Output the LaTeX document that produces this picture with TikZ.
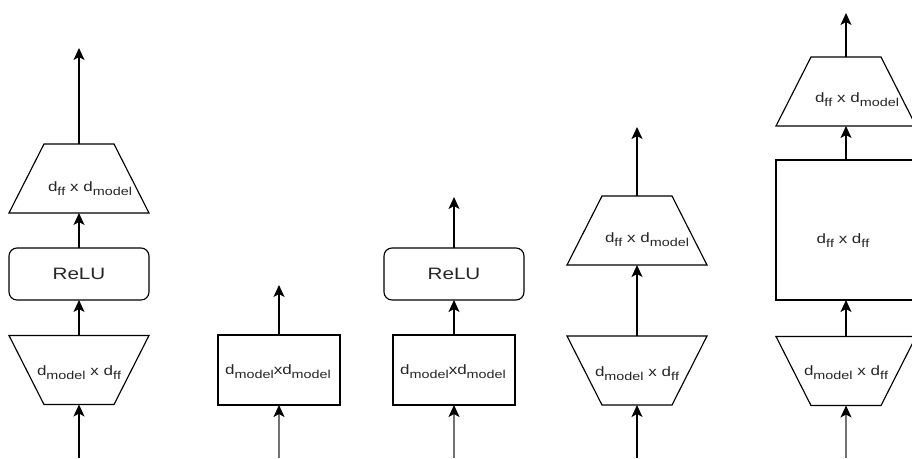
\documentclass[tikz,border=0pt]{standalone}
\usepackage{fontspec}
\setmainfont{Liberation Sans}[FakeStretch=1.25]
\usetikzlibrary{arrows.meta}
\newcommand{\sbs}[1]{\raisebox{-4pt}{\fontsize{11.5}{11.5}\selectfont #1}}
\newcommand{\dff}{d\sbs{f\kern0pt f}}
\newcommand{\dmod}{d\sbs{model}}
\begin{document}
\begin{tikzpicture}[x=1pt,y=-1pt,
  every node/.style={inner sep=0pt, outer sep=0pt},
  trapbox/.style={minimum width=140pt, minimum height=69pt},
  shapeline/.style={line width=1.15pt, black},
  relubox/.style={draw, line width=1.15pt, rounded corners=8pt, minimum width=140pt, minimum height=52pt, font=\fontsize{16.5}{16.5}\selectfont, text=black!85},
  sqbox/.style={draw, line width=1.15pt, minimum width=122pt, minimum height=70pt},
  lbl/.style={font=\fontsize{13.6}{14}\selectfont, text=black!85},
  conn/.style={line width=1.15pt, -{Stealth[length=12pt,width=11pt,inset=3pt]}},
  gconn/.style={line width=1.3pt, black!55, -{Stealth[length=12pt,width=11pt,inset=3pt,color=black]}}
]
\useasboundingbox (0,0) rectangle (912,458);
\clip (0,0) rectangle (912,458);

% ---------- Column 1 ----------
\coordinate (out1) at (79,48);
\node[trapbox] (T1) at (79,178.5) {};
\node[relubox] (R1) at (79,274) {ReLU};
\node[trapbox] (B1) at (79,370) {};
\coordinate (in1) at (79,458);
\draw[shapeline] (T1.south west) -- (T1.south east) -- ([xshift=-35pt]T1.north east) -- ([xshift=35pt]T1.north west) -- cycle;
\draw[shapeline] (B1.north west) -- (B1.north east) -- ([xshift=-35pt]B1.south east) -- ([xshift=35pt]B1.south west) -- cycle;
\node[lbl] (LT1) at (90,189) {\dff{} x \dmod};
\node[lbl] (LB1) at (79,373) {\dmod{} x \dff};
\draw[conn] (in1) -- (B1);
\draw[conn] (B1) -- (R1);
\draw[conn] (R1) -- (T1);
\draw[conn] (T1) -- (out1);

% ---------- Column 2 ----------
\coordinate (out2) at (279,285);
\node[sqbox] (M2) at (279,370) {};
\coordinate (in2) at (279,458);
\node[lbl] (LM2) at (278,372) {\dmod x\dmod};
\draw[gconn] (in2) -- (M2);
\draw[conn] (M2) -- (out2);

% ---------- Column 3 ----------
\coordinate (out3) at (454,197);
\node[relubox] (R3) at (454,274) {ReLU};
\node[sqbox] (M3) at (454,370) {};
\coordinate (in3) at (454,458);
\node[lbl] (LM3) at (453,372) {\dmod x\dmod};
\draw[gconn] (in3) -- (M3);
\draw[conn] (M3) -- (R3);
\draw[conn] (R3) -- (out3);

% ---------- Column 4 ----------
\coordinate (out4) at (637,127);
\node[trapbox] (T4) at (637,230.5) {};
\node[trapbox] (B4) at (637,370.5) {};
\coordinate (in4) at (637,458);
\draw[shapeline] (T4.south west) -- (T4.south east) -- ([xshift=-35pt]T4.north east) -- ([xshift=35pt]T4.north west) -- cycle;
\draw[shapeline] (B4.north west) -- (B4.north east) -- ([xshift=-35pt]B4.south east) -- ([xshift=35pt]B4.south west) -- cycle;
\node[lbl] (LT4) at (647,240) {\dff{} x \dmod};
\node[lbl] (LB4) at (637,374) {\dmod{} x \dff};
\draw[conn] (in4) -- (B4);
\draw[conn] (B4) -- (T4);
\draw[conn] (T4) -- (out4);

% ---------- Column 5 ----------
\coordinate (out5) at (846,13);
\node[trapbox] (T5) at (846,91.5) {};
\node[draw, line width=1.15pt, minimum width=140pt, minimum height=140pt] (S5) at (846,230) {};
\node[trapbox] (B5) at (846,371) {};
\coordinate (in5) at (846,458);
\draw[shapeline] (T5.south west) -- (T5.south east) -- ([xshift=-35pt]T5.north east) -- ([xshift=35pt]T5.north west) -- cycle;
\draw[shapeline] (B5.north west) -- (B5.north east) -- ([xshift=-35pt]B5.south east) -- ([xshift=35pt]B5.south west) -- cycle;
\node[lbl] (LT5) at (857,100) {\dff{} x \dmod};
\node[lbl] (LS5) at (843,241) {\dff{} x \dff};
\node[lbl] (LB5) at (846,373) {\dmod{} x \dff};
\draw[gconn] (in5) -- (B5);
\draw[conn] (B5) -- (S5);
\draw[conn] (S5) -- (T5);
\draw[conn] (T5) -- (out5);
\end{tikzpicture}
\end{document}
